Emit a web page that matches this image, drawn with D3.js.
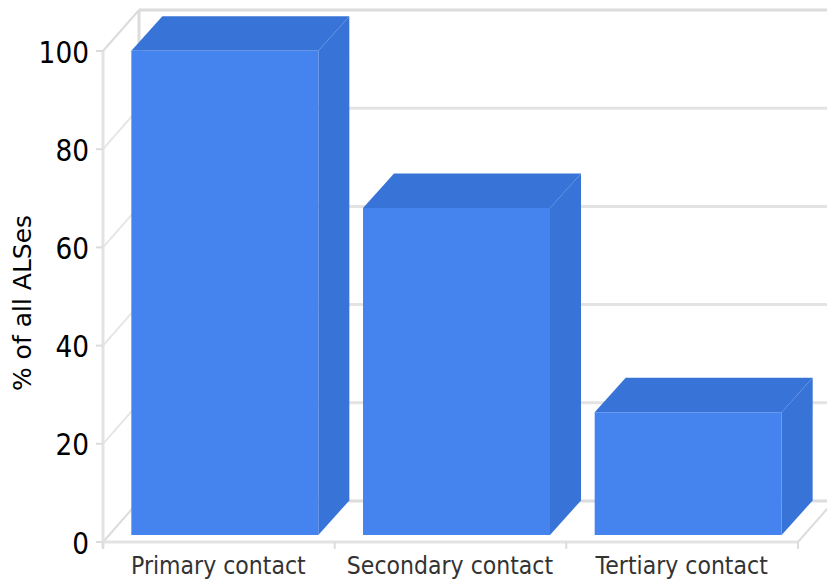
<!DOCTYPE html>
<html><head><meta charset="utf-8">
<script src="https://cdn.jsdelivr.net/npm/d3@7"></script>
<style>html,body{margin:0;padding:0;background:#fff}svg{display:block}text{font-family:"DejaVu Sans",sans-serif}</style>
</head><body><svg id="c" width="827" height="579"></svg>
<script>
const categories = ["Primary contact","Secondary contact","Tertiary contact"];
const values = [98.6, 66.6, 25];
const yTicks = [0,20,40,60,80,100];
const svg = d3.select("#c");
const y = d3.scaleLinear().domain([0,100]).range([542,51]);
const yBar = d3.scaleLinear().domain([0,100]).range([535,44]);
const x = d3.scaleBand().domain(categories).range([103,798]);
const wall = {dx:36, dy:-41}, gridC = "#e3e3e3", edgeC="#dcdcdc";
const g = svg.append("g");
yTicks.forEach(t=>{
  g.append("line").attr("x1",103).attr("x2",103+wall.dx).attr("y1",y(t)).attr("y2",y(t)+wall.dy)
   .attr("stroke",t===0||t===100?edgeC:"#e6e6e6").attr("stroke-width",2);
  g.append("line").attr("x1",103+wall.dx).attr("x2",840).attr("y1",y(t)+wall.dy).attr("y2",y(t)+wall.dy)
   .attr("stroke",t===0||t===100?edgeC:gridC).attr("stroke-width",3);
});
g.append("line").attr("x1",139).attr("x2",139).attr("y1",y(100)+wall.dy).attr("y2",y(0)+wall.dy).attr("stroke",edgeC).attr("stroke-width",3);
g.append("line").attr("x1",103).attr("x2",103).attr("y1",y(100)).attr("y2",y(0)+6).attr("stroke",gridC).attr("stroke-width",3);
g.append("line").attr("x1",103).attr("x2",798).attr("y1",y(0)).attr("y2",y(0)).attr("stroke",gridC).attr("stroke-width",3);
g.append("line").attr("x1",798).attr("x2",798+wall.dx).attr("y1",y(0)).attr("y2",y(0)+wall.dy).attr("stroke",edgeC).attr("stroke-width",2);
yTicks.forEach(t=>g.append("line").attr("x1",96).attr("x2",103).attr("y1",y(t)).attr("y2",y(t)).attr("stroke",edgeC).attr("stroke-width",2));
[103,334.7,566.3,798].forEach(v=>g.append("line").attr("x1",v).attr("x2",v).attr("y1",542).attr("y2",549).attr("stroke",edgeC).attr("stroke-width",2));
const barW = 187, bd = {dx:31, dy:-34.5};
const bars = g.selectAll(".b").data(values).enter().append("g");
bars.each(function(v,i){
  const s = d3.select(this), x0 = x(categories[i]) + (x.bandwidth()-barW)/2 + 6, x1 = x0+barW, t = yBar(v), b = yBar(0);
  const p = a=>a.map(q=>q.join(",")).join(" ");
  s.append("polygon").attr("points",p([[x0,t],[x0+bd.dx,t+bd.dy],[x1+bd.dx,t+bd.dy],[x1,t]])).attr("fill","#3874d8");
  s.append("polygon").attr("points",p([[x1,t],[x1+bd.dx,t+bd.dy],[x1+bd.dx,b+bd.dy],[x1,b]])).attr("fill","#3874d8");
  s.append("rect").attr("x",x0).attr("y",t).attr("width",barW).attr("height",b-t).attr("fill","#4584ee");
});
yTicks.forEach(t=>g.append("text").attr("transform",`translate(89,${y(t)+11.5}) scale(0.88,1)`).attr("text-anchor","end").attr("font-size",30).attr("fill","#000").text(t));
categories.forEach((c,i)=>g.append("text").attr("transform",`translate(${x(c)+x.bandwidth()/2-0.5},574) scale(0.865,1)`).attr("text-anchor","middle").attr("font-size",25.5).attr("fill","#333").text(c));
g.append("text").attr("transform","translate(31,303) rotate(-90)").attr("text-anchor","middle").attr("font-size",25).attr("fill","#000").text("% of all ALSes");
</script></body></html>
